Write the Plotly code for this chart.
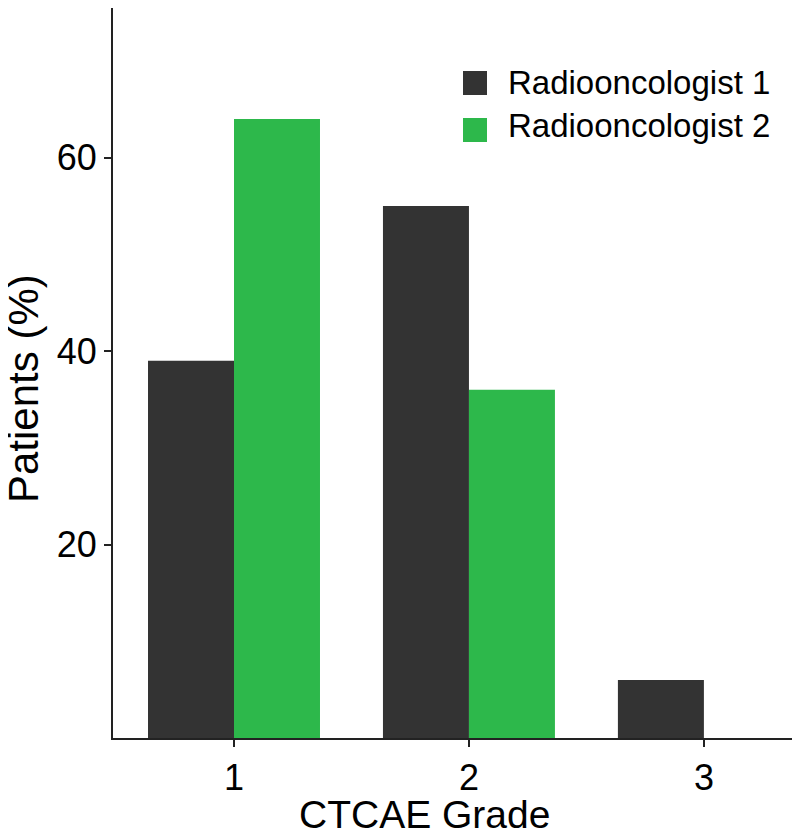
import plotly.graph_objects as go

grades = ["1", "2", "3"]
grade_pos = [1, 2, 3]
rad1 = [39, 55, 6]
rad2 = [64, 36, 0]
series_names = ["Radiooncologist 1", "Radiooncologist 2"]
colors = ["#333333", "#2db84b"]
y_ticks = [20, 40, 60]

FONT = "Liberation Sans, Arial, sans-serif"

fig = go.Figure()
for name, vals, col in zip(series_names, [rad1, rad2], colors):
    fig.add_trace(go.Bar(x=grade_pos, y=vals, name=name, marker=dict(color=col, line=dict(width=0)),
                         showlegend=False))

OFF = 8  # page body margin
W, H = 800 - OFF, 834 - OFF
L = 113 - OFF
B = H - (738 - OFF)
pw, ph = W - L, H - B

def px(x):
    return (x - OFF - L) / pw

def py(y):
    return 1 - (y - OFF) / ph

annotations = []
shapes = []
# manual legend
legend_rows = [(83, 71, 95), (125, 118, 142)]
for (ty, s0, s1), name, col in zip(legend_rows, series_names, colors):
    shapes.append(dict(type="rect", xref="paper", yref="paper", x0=px(463), x1=px(487),
                       y0=py(s1), y1=py(s0), fillcolor=col, line=dict(width=0)))
    annotations.append(dict(text=name, xref="paper", yref="paper", x=px(506), y=py(ty),
                            xanchor="left", yanchor="middle", showarrow=False,
                            font=dict(family=FONT, size=33, color="black")))

annotations.append(dict(text="Patients (%)", xref="paper", yref="paper", x=px(23), y=py(389),
                        textangle=-90, xanchor="center", yanchor="middle", showarrow=False,
                        font=dict(family=FONT, size=42, color="black")))
annotations.append(dict(text="CTCAE Grade", xref="paper", yref="paper", x=px(424), y=py(814),
                        xanchor="center", yanchor="middle", showarrow=False,
                        font=dict(family=FONT, size=39, color="black")))

fig.update_layout(
    width=W, height=H,
    margin=dict(l=L, r=0, t=0, b=B),
    paper_bgcolor="white", plot_bgcolor="white",
    barmode="group", bargap=0.268, bargroupgap=0,
    showlegend=False,
    annotations=annotations, shapes=shapes,
    xaxis=dict(range=[0.485, 3.409], tickvals=grade_pos, ticktext=grades,
               showline=True, linecolor="#222", linewidth=2, ticks="outside", ticklen=7,
               tickwidth=2, tickcolor="#222", showgrid=False, zeroline=False,
               tickfont=dict(family=FONT, size=36, color="black")),
    yaxis=dict(range=[0, 76.3 - OFF / 9.67], tickvals=y_ticks, showline=True, linecolor="#222",
               linewidth=2, ticks="outside", ticklen=7, tickwidth=2, tickcolor="#222",
               showgrid=False, zeroline=False,
               tickfont=dict(family=FONT, size=36, color="black")),
)

fig.write_html("out.html")
